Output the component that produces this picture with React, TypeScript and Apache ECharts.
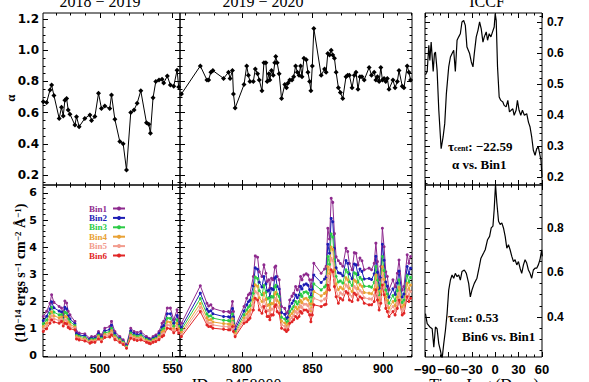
import React, { useEffect, useRef } from "react";
import * as echarts from "echarts";

// ---------- data: 2018-2019 season ----------
const JD_A = [461.2, 463.5, 465.8, 466.9, 468.5, 472.1, 473.7, 474.9, 476.0, 477.2, 478.3, 479.5, 482.9, 484.0, 485.8, 489.7, 493.2, 494.3, 496.6, 499.1, 501.1, 503.4, 506.8, 508.0, 510.3, 513.7, 516.0, 518.3, 521.2, 523.5, 525.6, 528.1, 532.0, 533.6, 534.7, 536.5, 538.4, 540.6, 542.7, 543.8, 546.3, 548.4, 550.7, 553.0, 554.1];
const ALPHA_A = [0.67, 0.665, 0.745, 0.777, 0.71, 0.563, 0.634, 0.578, 0.68, 0.69, 0.617, 0.59, 0.52, 0.574, 0.51, 0.563, 0.585, 0.55, 0.575, 0.724, 0.627, 0.642, 0.627, 0.713, 0.557, 0.414, 0.40, 0.232, 0.60, 0.617, 0.66, 0.74, 0.535, 0.525, 0.467, 0.695, 0.80, 0.81, 0.815, 0.79, 0.835, 0.777, 0.77, 0.873, 0.764];
const BIN1_A = [1.45, 1.64, 1.94, 2.25, 1.97, 1.82, 1.76, 1.57, 2.02, 1.95, 1.64, 1.51, 1.27, 0.90, 0.84, 0.81, 0.65, 0.71, 0.71, 0.90, 0.77, 1.02, 1.08, 1.27, 0.90, 0.71, 0.59, 0.41, 1.02, 0.90, 0.86, 0.90, 0.71, 0.65, 0.62, 0.71, 0.77, 0.90, 1.20, 1.27, 1.76, 1.76, 1.33, 1.70, 1.33];
const BIN2_A = [1.30, 1.46, 1.73, 1.99, 1.77, 1.65, 1.62, 1.44, 1.79, 1.73, 1.47, 1.37, 1.18, 0.82, 0.77, 0.74, 0.60, 0.65, 0.65, 0.82, 0.70, 0.92, 0.97, 1.13, 0.82, 0.65, 0.54, 0.37, 0.92, 0.82, 0.78, 0.81, 0.65, 0.60, 0.57, 0.65, 0.70, 0.82, 1.06, 1.12, 1.55, 1.55, 1.20, 1.49, 1.19];
const BIN3_A = [1.18, 1.32, 1.57, 1.79, 1.61, 1.51, 1.52, 1.34, 1.61, 1.57, 1.35, 1.26, 1.12, 0.76, 0.72, 0.68, 0.56, 0.61, 0.61, 0.76, 0.65, 0.85, 0.89, 1.02, 0.75, 0.61, 0.51, 0.35, 0.84, 0.75, 0.72, 0.75, 0.61, 0.56, 0.54, 0.61, 0.65, 0.75, 0.96, 1.01, 1.39, 1.38, 1.09, 1.33, 1.09];
const BIN4_A = [1.08, 1.20, 1.44, 1.62, 1.48, 1.40, 1.43, 1.25, 1.46, 1.43, 1.24, 1.16, 1.06, 0.71, 0.67, 0.63, 0.53, 0.57, 0.57, 0.71, 0.60, 0.79, 0.82, 0.93, 0.70, 0.57, 0.47, 0.32, 0.77, 0.70, 0.66, 0.69, 0.57, 0.53, 0.50, 0.57, 0.61, 0.70, 0.87, 0.92, 1.26, 1.24, 1.00, 1.20, 1.00];
const BIN5_A = [0.99, 1.10, 1.32, 1.48, 1.37, 1.30, 1.35, 1.18, 1.33, 1.30, 1.14, 1.08, 1.01, 0.66, 0.63, 0.59, 0.50, 0.53, 0.53, 0.66, 0.56, 0.73, 0.76, 0.85, 0.65, 0.53, 0.45, 0.30, 0.71, 0.65, 0.62, 0.64, 0.53, 0.50, 0.48, 0.53, 0.57, 0.65, 0.79, 0.83, 1.14, 1.12, 0.93, 1.08, 0.92];
const BIN6_A = [0.90, 1.00, 1.20, 1.33, 1.25, 1.20, 1.27, 1.10, 1.20, 1.18, 1.05, 1.00, 0.96, 0.62, 0.59, 0.55, 0.47, 0.50, 0.50, 0.62, 0.52, 0.68, 0.70, 0.77, 0.60, 0.50, 0.42, 0.28, 0.65, 0.60, 0.57, 0.59, 0.50, 0.47, 0.45, 0.50, 0.53, 0.60, 0.71, 0.75, 1.02, 1.00, 0.85, 0.96, 0.84];

// ---------- data: 2019-2020 season ----------
const JD_B = [757.0, 770.4, 775.1, 776.3, 777.9, 779.3, 786.9, 790.4, 791.5, 793.2, 793.9, 795.1, 801.4, 803.3, 804.5, 805.6, 808.0, 809.4, 811.0, 812.2, 814.1, 815.5, 816.9, 817.8, 819.0, 819.7, 820.9, 822.1, 823.2, 823.9, 824.9, 826.3, 828.0, 830.3, 831.5, 832.6, 833.8, 835.4, 836.6, 838.0, 839.2, 840.4, 841.5, 842.5, 843.9, 845.5, 846.7, 847.9, 848.8, 849.8, 850.9, 856.1, 858.5, 859.6, 860.8, 862.0, 863.2, 864.3, 865.5, 866.7, 868.3, 869.7, 871.4, 873.7, 874.9, 876.1, 878.0, 879.6, 880.8, 882.2, 883.6, 885.0, 886.6, 890.1, 891.8, 893.7, 894.9, 896.0, 897.2, 898.4, 899.5, 900.7, 901.9, 903.0, 904.2, 907.0, 908.5, 910.1, 911.3, 913.6, 914.8, 917.1, 918.3, 919.5];
const ALPHA_B = [0.72, 0.90, 0.81, 0.81, 0.86, 0.87, 0.82, 0.86, 0.82, 0.87, 0.72, 0.63, 0.78, 0.90, 0.84, 0.80, 0.80, 0.88, 0.85, 0.81, 0.74, 0.92, 0.92, 0.80, 0.85, 0.81, 0.87, 0.84, 0.92, 0.96, 0.92, 0.85, 0.69, 0.78, 0.76, 0.79, 0.81, 0.81, 0.83, 0.90, 0.86, 0.84, 0.90, 0.83, 0.95, 0.94, 0.86, 0.80, 0.74, 0.90, 1.14, 0.84, 0.88, 0.86, 0.98, 0.97, 1.00, 0.97, 0.95, 0.86, 0.76, 0.73, 0.69, 0.83, 0.84, 0.84, 0.76, 0.84, 0.86, 0.75, 0.83, 0.83, 0.81, 0.89, 0.84, 0.86, 0.81, 0.83, 0.80, 0.89, 0.81, 0.82, 0.80, 0.82, 0.75, 0.81, 0.76, 0.80, 0.87, 0.77, 0.76, 0.90, 0.86, 0.81];
const BIN1_B = [1.20, 2.58, 1.94, 1.84, 1.88, 1.75, 1.63, 1.63, 1.60, 2.00, 1.63, 1.08, 1.82, 2.12, 2.25, 2.30, 2.92, 3.68, 3.63, 3.10, 2.92, 3.35, 3.04, 2.74, 2.80, 2.49, 2.86, 2.80, 3.26, 3.31, 2.92, 2.80, 1.82, 1.75, 1.57, 1.63, 2.06, 2.20, 2.30, 2.55, 2.43, 2.55, 2.92, 2.80, 2.98, 3.02, 2.98, 2.80, 2.55, 2.80, 3.41, 3.04, 3.20, 3.30, 4.70, 4.30, 5.80, 5.65, 4.50, 3.65, 3.50, 3.40, 3.30, 3.96, 3.84, 3.40, 3.17, 3.80, 3.78, 3.35, 3.60, 3.50, 3.17, 3.23, 3.17, 3.41, 4.15, 3.47, 2.80, 3.29, 4.70, 4.02, 3.10, 2.92, 2.43, 2.80, 2.55, 3.04, 3.53, 2.43, 2.55, 3.72, 3.41, 3.66];
const BIN2_B = [1.06, 2.31, 1.72, 1.63, 1.66, 1.55, 1.45, 1.44, 1.42, 1.74, 1.43, 0.98, 1.65, 1.88, 1.99, 2.05, 2.58, 3.24, 3.19, 2.71, 2.54, 2.92, 2.65, 2.38, 2.42, 2.17, 2.48, 2.44, 2.86, 2.91, 2.56, 2.46, 1.60, 1.53, 1.38, 1.44, 1.82, 1.94, 2.03, 2.24, 2.14, 2.24, 2.56, 2.46, 2.62, 2.65, 2.60, 2.44, 2.19, 2.44, 2.98, 2.70, 2.83, 2.91, 4.11, 3.78, 5.06, 4.94, 3.95, 3.24, 3.06, 3.04, 2.95, 3.51, 3.41, 3.02, 2.84, 3.38, 3.35, 2.99, 3.20, 3.11, 2.83, 2.85, 2.81, 3.02, 3.67, 3.08, 2.49, 2.91, 4.11, 3.52, 2.72, 2.56, 2.16, 2.47, 2.26, 2.68, 3.12, 2.17, 2.28, 3.29, 3.02, 3.23];
const BIN3_B = [0.96, 2.11, 1.54, 1.46, 1.48, 1.39, 1.31, 1.30, 1.28, 1.54, 1.27, 0.90, 1.51, 1.69, 1.79, 1.85, 2.31, 2.90, 2.85, 2.40, 2.25, 2.59, 2.34, 2.10, 2.13, 1.91, 2.19, 2.16, 2.54, 2.60, 2.28, 2.19, 1.42, 1.36, 1.24, 1.30, 1.63, 1.73, 1.82, 2.00, 1.91, 2.00, 2.28, 2.19, 2.34, 2.36, 2.31, 2.16, 1.91, 2.16, 2.65, 2.43, 2.54, 2.60, 3.66, 3.37, 4.49, 4.38, 3.53, 2.92, 2.72, 2.76, 2.68, 3.17, 3.08, 2.73, 2.59, 3.06, 3.02, 2.71, 2.89, 2.81, 2.56, 2.56, 2.53, 2.71, 3.29, 2.77, 2.25, 2.62, 3.66, 3.14, 2.43, 2.28, 1.94, 2.22, 2.03, 2.40, 2.80, 1.97, 2.06, 2.95, 2.71, 2.89];
const BIN4_B = [0.87, 1.93, 1.40, 1.32, 1.34, 1.25, 1.19, 1.17, 1.16, 1.37, 1.13, 0.83, 1.40, 1.54, 1.62, 1.68, 2.08, 2.62, 2.56, 2.14, 2.00, 2.31, 2.08, 1.86, 1.88, 1.70, 1.94, 1.92, 2.28, 2.34, 2.04, 1.96, 1.28, 1.21, 1.11, 1.17, 1.48, 1.56, 1.64, 1.80, 1.72, 1.80, 2.04, 1.96, 2.10, 2.12, 2.06, 1.92, 1.67, 1.92, 2.37, 2.21, 2.30, 2.35, 3.28, 3.03, 4.01, 3.92, 3.17, 2.65, 2.44, 2.53, 2.46, 2.88, 2.80, 2.49, 2.37, 2.79, 2.74, 2.47, 2.63, 2.56, 2.33, 2.31, 2.29, 2.45, 2.98, 2.51, 2.05, 2.37, 3.28, 2.82, 2.18, 2.04, 1.76, 2.00, 1.84, 2.16, 2.53, 1.80, 1.88, 2.67, 2.45, 2.61];
const BIN5_B = [0.79, 1.78, 1.27, 1.20, 1.21, 1.14, 1.08, 1.07, 1.06, 1.23, 1.02, 0.77, 1.30, 1.40, 1.48, 1.54, 1.89, 2.37, 2.31, 1.92, 1.79, 2.06, 1.86, 1.66, 1.67, 1.52, 1.73, 1.72, 2.05, 2.11, 1.84, 1.77, 1.15, 1.09, 1.01, 1.07, 1.34, 1.41, 1.49, 1.63, 1.56, 1.63, 1.84, 1.77, 1.90, 1.90, 1.85, 1.72, 1.47, 1.72, 2.12, 2.02, 2.09, 2.12, 2.94, 2.73, 3.59, 3.51, 2.86, 2.42, 2.19, 2.32, 2.26, 2.62, 2.55, 2.27, 2.19, 2.55, 2.49, 2.27, 2.41, 2.34, 2.14, 2.10, 2.09, 2.23, 2.71, 2.29, 1.87, 2.16, 2.94, 2.53, 1.97, 1.84, 1.61, 1.82, 1.68, 1.96, 2.30, 1.66, 1.73, 2.43, 2.23, 2.37];
const BIN6_B = [0.71, 1.63, 1.14, 1.08, 1.08, 1.02, 0.98, 0.96, 0.96, 1.08, 0.90, 0.71, 1.20, 1.26, 1.33, 1.39, 1.69, 2.12, 2.06, 1.69, 1.57, 1.82, 1.63, 1.45, 1.45, 1.33, 1.51, 1.51, 1.82, 1.88, 1.63, 1.57, 1.02, 0.96, 0.90, 0.96, 1.20, 1.26, 1.33, 1.45, 1.39, 1.45, 1.63, 1.57, 1.69, 1.69, 1.63, 1.51, 1.26, 1.51, 1.88, 1.82, 1.88, 1.90, 2.61, 2.43, 3.17, 3.10, 2.55, 2.18, 1.94, 2.12, 2.06, 2.37, 2.31, 2.06, 2.00, 2.31, 2.25, 2.06, 2.18, 2.12, 1.94, 1.88, 1.88, 2.00, 2.43, 2.06, 1.69, 1.94, 2.61, 2.25, 1.75, 1.63, 1.45, 1.63, 1.51, 1.75, 2.06, 1.51, 1.57, 2.18, 2.00, 2.12];

// ---------- ICCF ----------
const LAG_1 = [-89.4, -87.2, -85.1, -83.8, -82.1, -79.5, -77.9, -76.6, -74.5, -72.3, -69.3, -66.8, -64.7, -62.6, -59.6, -57.4, -55.3, -53.2, -51.1, -48.9, -46.8, -44.7, -42.6, -40.4, -38.3, -36.2, -32.8, -30.6, -28.5, -26.8, -24.3, -22.1, -20.0, -17.9, -15.7, -14.0, -11.5, -9.8, -7.7, -5.5, -3.4, -1.3, 0, 1.3, 3.0, 5.1, 7.2, 9.8, 11.5, 14.0, 16.2, 18.3, 20.4, 22.6, 24.3, 26.8, 28.5, 30.6, 32.8, 34.9, 37.4, 40.4, 42.6, 44.7, 46.8, 48.9, 51.1, 53.2, 55.3, 57.4, 58.7, 60];
const CCF_1 = [0.53, 0.54, 0.625, 0.576, 0.635, 0.54, 0.598, 0.603, 0.544, 0.415, 0.291, 0.329, 0.372, 0.469, 0.555, 0.587, 0.598, 0.609, 0.54, 0.641, 0.652, 0.662, 0.70, 0.705, 0.689, 0.619, 0.598, 0.571, 0.555, 0.598, 0.652, 0.673, 0.70, 0.678, 0.635, 0.652, 0.668, 0.641, 0.662, 0.652, 0.668, 0.684, 0.727, 0.705, 0.555, 0.458, 0.447, 0.442, 0.431, 0.426, 0.447, 0.41, 0.415, 0.42, 0.399, 0.415, 0.447, 0.415, 0.399, 0.415, 0.399, 0.404, 0.377, 0.361, 0.329, 0.286, 0.27, 0.291, 0.297, 0.27, 0.254, 0.20];
const LAG_2 = [-89.4, -87.2, -83.8, -80.8, -78.7, -76.6, -74.5, -72.3, -70.2, -68.1, -66.0, -63.8, -61.7, -59.6, -57.4, -55.3, -53.2, -51.1, -48.9, -46.8, -44.7, -42.6, -39.6, -37.0, -34.0, -31.9, -29.8, -26.8, -23.4, -20.4, -18.3, -14.9, -12.8, -9.8, -7.2, -5.1, -2.9, -1.3, 0.4, 2.1, 4.3, 6.4, 8.5, 10.6, 12.8, 14.9, 17.0, 19.1, 21.3, 23.4, 25.5, 27.7, 29.8, 31.9, 34.0, 36.2, 38.3, 40.4, 42.6, 44.7, 46.8, 48.9, 51.1, 53.2, 55.3, 57.4, 59.6, 60.4];
const CCF_2 = [0.415, 0.37, 0.355, 0.347, 0.264, 0.355, 0.347, 0.279, 0.249, 0.211, 0.279, 0.34, 0.415, 0.521, 0.566, 0.589, 0.574, 0.596, 0.581, 0.589, 0.566, 0.604, 0.611, 0.596, 0.551, 0.49, 0.521, 0.551, 0.574, 0.626, 0.664, 0.687, 0.702, 0.747, 0.762, 0.8, 0.808, 0.883, 0.996, 0.913, 0.83, 0.815, 0.823, 0.8, 0.762, 0.709, 0.725, 0.702, 0.672, 0.649, 0.657, 0.634, 0.649, 0.619, 0.596, 0.634, 0.657, 0.642, 0.611, 0.596, 0.574, 0.611, 0.619, 0.619, 0.634, 0.657, 0.702, 0.672];

const BIN_NAMES = ["Bin1", "Bin2", "Bin3", "Bin4", "Bin5", "Bin6"];
const BIN_COLORS = ["#8E2A8E", "#1C1CB4", "#2CCB46", "#E9A235", "#F29C8E", "#E12626"];
const FLUX_A = [BIN1_A, BIN2_A, BIN3_A, BIN4_A, BIN5_A, BIN6_A];
const FLUX_B = [BIN1_B, BIN2_B, BIN3_B, BIN4_B, BIN5_B, BIN6_B];

// ---------- tick values ----------
const X_MAJOR_A = [500, 550];
const X_MAJOR_B = [800, 850, 900];
const X_MAJOR_C = [-90, -60, -30, 0, 30, 60];
const Y_ALPHA_LABELS = [0.2, 0.4, 0.6, 0.8, 1.0, 1.2];
const Y_FLUX_LABELS = [0, 1, 2, 3, 4, 5, 6];
const Y_CCF1_LABELS = [0.2, 0.3, 0.4, 0.5, 0.6, 0.7];
const Y_CCF2_LABELS = [0.4, 0.6, 0.8];

const range = (a: number, b: number, s: number) => {
  const out: number[] = [];
  for (let v = a; v <= b + 1e-9; v += s) out.push(Math.round(v * 1000) / 1000);
  return out;
};

export default function App() {
  const ref = useRef<HTMLDivElement>(null);
  useEffect(() => {
    if (!ref.current) return;
    const chart = echarts.init(ref.current, null, { renderer: "svg", width: 589, height: 382 });

    const GRIDS = [
      [43, 13, 137, 172],
      [180, 13, 232, 172],
      [425, 13, 117, 172],
      [43, 185, 137, 172],
      [180, 185, 232, 172],
      [425, 185, 117, 172],
    ];
    const xAxes: any[] = [];
    const yAxes: any[] = [];
    const MAJ = 5;
    const MIN = 2.5;

    const axis = (grid: number, pos: string, r: number[], ticks: number[], len: number, labels?: number[], fmt?: (v: any) => string, lab?: any) => ({
      type: "value",
      gridIndex: grid,
      position: pos,
      min: r[0],
      max: r[1],
      axisLine: { show: false, onZero: false },
      splitLine: { show: false },
      axisPointer: { show: false },
      axisTick: { show: true, inside: true, length: len, customValues: ticks, lineStyle: { color: "#000", width: 1 } },
      axisLabel: labels
        ? { show: true, customValues: labels, formatter: fmt, showMinLabel: true, showMaxLabel: true, color: "#000", fontWeight: "bold", ...lab }
        : { show: false },
    });

    const panel = (grid: number, xr: number[], yr: number[], xMaj: number[], xMin: number[], yMaj: number[], yMin: number[], opts: any) => {
      const xi = xAxes.length;
      xAxes.push(axis(grid, "bottom", xr, xMaj, MAJ, opts.xLabels, opts.xFmt, opts.xLab));
      xAxes.push(axis(grid, "bottom", xr, xMin, MIN));
      xAxes.push(axis(grid, "top", xr, xMaj, MAJ));
      xAxes.push(axis(grid, "top", xr, xMin, MIN));
      const yi = yAxes.length;
      yAxes.push(axis(grid, "left", yr, yMaj, MAJ, opts.yLeft, opts.yFmt, opts.yLab));
      yAxes.push(axis(grid, "left", yr, yMin, MIN));
      yAxes.push(axis(grid, "right", yr, yMaj, MAJ, opts.yRight, opts.yFmt, opts.yLab));
      yAxes.push(axis(grid, "right", yr, yMin, MIN));
      return { xi, yi };
    };

    const XR_A = [461, 555];
    const XR_B = [756, 920.5];
    const XR_C = [-90, 60];
    const xMinA = range(470, 550, 10).filter((v) => !X_MAJOR_A.includes(v));
    const xMinB = range(760, 920, 10).filter((v) => !X_MAJOR_B.includes(v));
    const xMinC = range(-90, 60, 10).filter((v) => !X_MAJOR_C.includes(v));
    const labX = { fontFamily: "Liberation Sans", fontSize: 12, margin: 6 };
    const minusFmt = (v: any) => String(v).replace("-", "\u2212");

    const p0 = panel(0, XR_A, [0.135, 1.24], X_MAJOR_A, xMinA, Y_ALPHA_LABELS, range(0.15, 1.2, 0.05), {
      yLeft: Y_ALPHA_LABELS, yFmt: (v: any) => Number(v).toFixed(1), yLab: { fontFamily: "DejaVu Sans", fontSize: 12, margin: 4 },
    });
    const p1 = panel(1, XR_B, [0.135, 1.24], X_MAJOR_B, xMinB, Y_ALPHA_LABELS, range(0.15, 1.2, 0.05), {});
    const p2 = panel(2, XR_C, [0.174, 0.729], X_MAJOR_C, xMinC, Y_CCF1_LABELS, range(0.18, 0.72, 0.02), {
      yRight: Y_CCF1_LABELS, yFmt: (v: any) => Number(v).toFixed(1), yLab: { fontFamily: "Liberation Sans", fontSize: 12, margin: 5 },
    });
    const p3 = panel(3, XR_A, [-0.04, 6.29], X_MAJOR_A, xMinA, Y_FLUX_LABELS, range(0, 6.2, 0.2), {
      xLabels: X_MAJOR_A, xLab: labX,
      yLeft: Y_FLUX_LABELS, yFmt: (v: any) => String(v), yLab: { fontFamily: "DejaVu Sans", fontSize: 11, margin: 6 },
    });
    const p4 = panel(4, XR_B, [-0.04, 6.29], X_MAJOR_B, xMinB, Y_FLUX_LABELS, range(0, 6.2, 0.2), {
      xLabels: X_MAJOR_B, xLab: labX,
    });
    const p5 = panel(5, XR_C, [0.22, 0.993], X_MAJOR_C, xMinC, Y_CCF2_LABELS, range(0.25, 0.95, 0.05), {
      xLabels: X_MAJOR_C, xFmt: minusFmt, xLab: { fontFamily: "Liberation Sans", fontSize: 13, margin: 6 },
      yRight: Y_CCF2_LABELS, yFmt: (v: any) => Number(v).toFixed(1), yLab: { fontFamily: "Liberation Sans", fontSize: 12, margin: 5 },
    });

    const series: any[] = [];
    const alphaSeries = (p: any, xs: number[], ys: number[]) => ({
      type: "line",
      name: "alpha",
      xAxisIndex: p.xi,
      yAxisIndex: p.yi,
      data: xs.map((x, i) => [x, ys[i]]),
      symbol: "diamond",
      symbolSize: 5,
      itemStyle: { color: "#000" },
      lineStyle: { color: "#000", width: 1 },
      silent: true,
    });
    series.push(alphaSeries(p0, JD_A, ALPHA_A));
    series.push(alphaSeries(p1, JD_B, ALPHA_B));
    const ccf = (p: any, xs: number[], ys: number[]) => ({
      type: "line",
      name: "iccf",
      xAxisIndex: p.xi,
      yAxisIndex: p.yi,
      data: xs.map((x, i) => [x, ys[i]]),
      showSymbol: false,
      symbol: "none",
      lineStyle: { color: "#000", width: 1.2 },
      silent: true,
    });
    series.push(ccf(p2, LAG_1, CCF_1));
    series.push(ccf(p5, LAG_2, CCF_2));
    const flux = (p: any, xs: number[], arrs: number[][]) =>
      arrs.forEach((ys, k) =>
        series.push({
          type: "line",
          name: BIN_NAMES[k],
          xAxisIndex: p.xi,
          yAxisIndex: p.yi,
          data: xs.map((x, i) => [x, ys[i]]),
          symbol: "circle",
          symbolSize: 3,
          itemStyle: { color: BIN_COLORS[k] },
          lineStyle: { color: BIN_COLORS[k], width: 1 },
          silent: true,
        })
      );
    flux(p3, JD_A, FLUX_A);
    flux(p4, JD_B, FLUX_B);

    const serif = "Liberation Serif";
    const option: any = {
      animation: false,
      backgroundColor: "#ffffff",
      grid: GRIDS.map((g) => ({
        left: g[0], top: g[1], width: g[2], height: g[3],
        show: true, borderColor: "#000", borderWidth: 1, backgroundColor: "transparent",
        containLabel: false, outerBoundsMode: "none",
      })),
      xAxis: xAxes,
      yAxis: yAxes,
      legend: {
        data: BIN_NAMES.map((n, i) => ({ name: n, textStyle: { color: BIN_COLORS[i] } })),
        orient: "vertical",
        left: 89,
        top: 204,
        align: "right",
        itemWidth: 12,
        itemHeight: 5,
        itemGap: 0.4,
        padding: 0,
        selectedMode: false,
        textStyle: { fontFamily: serif, fontWeight: "bold", fontSize: 9, padding: [0, 1, 0, 0], lineHeight: 9 },
      },
      series,
      graphic: [
        { type: "text", x: 100, y: 1, silent: true, style: { text: "2018 \u2212 2019", fill: "#000", fontFamily: serif, fontSize: 16, align: "center", verticalAlign: "middle" } },
        { type: "text", x: 263, y: 1, silent: true, style: { text: "2019 \u2212 2020", fill: "#000", fontFamily: serif, fontSize: 16, align: "center", verticalAlign: "middle" } },
        { type: "text", x: 487, y: 1, silent: true, style: { text: "ICCF", fill: "#000", fontFamily: serif, fontSize: 16, align: "center", verticalAlign: "middle" } },
        { type: "text", x: 236, y: 384, silent: true, style: { text: "JD \u2212 2458000", fill: "#000", fontFamily: serif, fontSize: 16, align: "center", verticalAlign: "middle" } },
        { type: "text", x: 484, y: 384, silent: true, style: { text: "Time Lag (Days)", fill: "#000", fontFamily: serif, fontSize: 16, align: "center", verticalAlign: "middle" } },
        { type: "text", x: 10, y: 98, rotation: Math.PI / 2, silent: true, style: { text: "\u03b1", fill: "#000", fontFamily: serif, fontWeight: "bold", fontSize: 13, align: "center", verticalAlign: "middle" } },
        {
          type: "text", x: 20, y: 273, rotation: Math.PI / 2, silent: true,
          style: {
            text: "{n|(10}{s|\u221214}{n| ergs s}{s|\u22121}{n| cm}{s|\u22122}{n| \u00c5}{s|\u22121}{n|)}",
            fill: "#000", align: "center", verticalAlign: "middle",
            rich: {
              n: { fontFamily: serif, fontWeight: "bold", fontSize: 14, lineHeight: 14, padding: [5, 0, 0, 0], verticalAlign: "bottom", fill: "#000" },
              s: { fontFamily: serif, fontWeight: "bold", fontSize: 9, lineHeight: 9, verticalAlign: "top", fill: "#000" },
            },
          },
        },
        {
          type: "text", x: 448, y: 146, silent: true,
          style: {
            text: "{t|\u03c4}{s|cent}{t|: \u221222.59}", align: "left", verticalAlign: "middle",
            rich: {
              t: { fontFamily: serif, fontWeight: "bold", fontSize: 13, lineHeight: 13, verticalAlign: "top", fill: "#000" },
              s: { fontFamily: serif, fontWeight: "bold", fontSize: 8, lineHeight: 8, padding: [7, 0, 0, 0], verticalAlign: "bottom", fill: "#000" },
            },
          },
        },
        { type: "text", x: 452, y: 164, silent: true, style: { text: "\u03b1 vs. Bin1", fill: "#000", fontFamily: serif, fontWeight: "bold", fontSize: 13, align: "left", verticalAlign: "middle" } },
        {
          type: "text", x: 448, y: 317, silent: true,
          style: {
            text: "{t|\u03c4}{s|cent}{t|: 0.53}", align: "left", verticalAlign: "middle",
            rich: {
              t: { fontFamily: serif, fontWeight: "bold", fontSize: 13, lineHeight: 13, verticalAlign: "top", fill: "#000" },
              s: { fontFamily: serif, fontWeight: "bold", fontSize: 8, lineHeight: 8, padding: [7, 0, 0, 0], verticalAlign: "bottom", fill: "#000" },
            },
          },
        },
        { type: "text", x: 462, y: 336, silent: true, style: { text: "Bin6 vs. Bin1", fill: "#000", fontFamily: serif, fontWeight: "bold", fontSize: 13, align: "left", verticalAlign: "middle" } },
      ],
    };
    chart.setOption(option);
    return () => chart.dispose();
  }, []);
  return <div ref={ref} style={{ position: "absolute", left: 0, top: 0, width: 589, height: 382 }} />;
}
